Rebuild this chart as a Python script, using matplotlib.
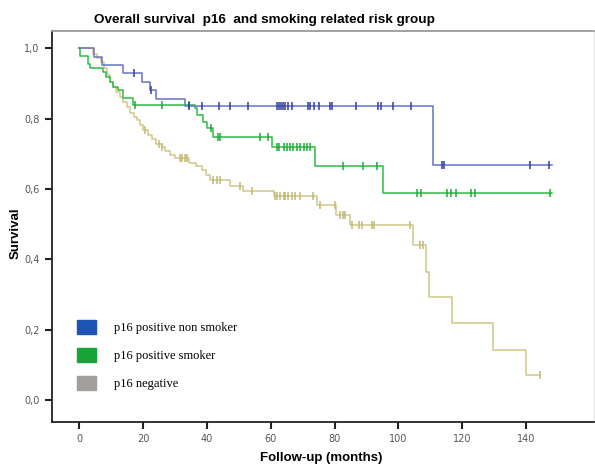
import numpy as np
import matplotlib
matplotlib.use("Agg")
import matplotlib.pyplot as plt
from matplotlib.patches import Patch

# ---------------- data ----------------
title = "Overall survival  p16  and smoking related risk group"
xlabel = "Follow-up (months)"
ylabel = "Survival"
xticks = [0, 20, 40, 60, 80, 100, 120, 140]
yticks = [0.0, 0.2, 0.4, 0.6, 0.8, 1.0]
ytick_labels = ["0,0", "0,2", "0,4", "0,6", "0,8", "1,0"]
legend_labels = ["p16 positive non smoker", "p16 positive smoker", "p16 negative"]

# p16 positive non smoker
blue_t = [0, 4.5, 7.0, 13.8, 19.6, 22.0, 24.0, 33.1, 110.8]
blue_s = [1.0, 0.976, 0.952, 0.929, 0.905, 0.881, 0.857, 0.836, 0.668]
blue_cens = [17.2, 22.6, 34.5, 38.4, 43.8, 47.2, 53.0, 61.9, 62.5, 63.2, 63.9,
             64.6, 65.3, 66.6, 71.8, 72.2, 73.6, 75.0, 78.7, 79.3, 86.7, 93.5,
             94.6, 98.4, 103.9, 113.6, 114.2, 141.1, 147.3]
blue_end = 148

# p16 positive smoker
green_t = [0, 0.3, 2.7, 3.4, 7.4, 8.4, 9.6, 10.6, 12.1, 13.7, 16.8, 36.3, 36.8,
           38.9, 39.9, 41.8, 60.3, 73.9, 95.3]
green_s = [1.0, 0.978, 0.956, 0.944, 0.933, 0.918, 0.904, 0.89, 0.881, 0.859,
           0.839, 0.829, 0.81, 0.791, 0.772, 0.747, 0.72, 0.665, 0.589]
green_cens = [17.5, 25.8, 34.5, 41.3, 43.5, 44.2, 56.6, 59.0, 61.9, 62.7, 64.2,
              65.0, 66.1, 66.9, 68.1, 69.2, 70.4, 71.3, 72.2, 82.6, 89.0, 93.2,
              105.8, 107.0, 115.2, 116.4, 118.1, 122.7, 124.0, 147.6]
green_end = 148

# p16 negative
tan_t = [0, 4.4, 5.5, 6.8, 7.8, 8.7, 9.6, 10.5, 11.6, 12.7, 13.8, 14.9, 15.9,
         17.0, 18.0, 19.0, 20.0, 21.5, 22.8, 24.0, 25.8, 27.0, 28.4, 30.0, 34.5,
         36.5, 38.4, 39.8, 41.0, 47.2, 51.4, 61.0, 74.4, 80.5, 84.9, 104.5,
         108.7, 109.6, 116.9, 129.5, 140.0]
tan_s = [1.0, 0.985, 0.973, 0.962, 0.945, 0.925, 0.905, 0.89, 0.876, 0.862,
         0.848, 0.832, 0.815, 0.805, 0.796, 0.782, 0.768, 0.753, 0.742, 0.729,
         0.72, 0.708, 0.697, 0.687, 0.675, 0.665, 0.654, 0.64, 0.624, 0.608,
         0.595, 0.58, 0.554, 0.526, 0.498, 0.441, 0.365, 0.292, 0.218, 0.142,
         0.071]
tan_cens = [20.5, 25.1, 26.0, 31.6, 32.3, 33.0, 33.7, 42.0, 43.0, 44.1, 50.5,
            54.0, 61.3, 62.1, 63.0, 64.0, 64.5, 65.5, 66.5, 67.5, 69.2, 73.2,
            75.5, 80.2, 81.7, 82.6, 83.3, 85.6, 87.5, 88.5, 91.7, 92.4, 103.5,
            106.8, 107.7, 144.4]
tan_end = 144.4

# ---------------- styles ----------------
line_colors = ["#6673c4", "#2fbb45", "#cfc88a"]
mark_colors = ["#2f3fa0", "#1fa838", "#c2b977"]
patch_colors = ["#1c55b6", "#1aa33a", "#a29e9b"]

fig = plt.figure(figsize=(5.95, 4.66), dpi=100)
ax = fig.add_axes([52 / 595, 1 - 422 / 466, 542 / 595, 391 / 466])

def km(ax, t, s, cens, end, lc, mc):
    t = np.asarray(t, float)
    s = np.asarray(s, float)
    xs = np.append(t, end)
    ys = np.append(s, s[-1])
    ax.step(xs, ys, where="post", color=lc, lw=1.1, zorder=3)
    c = np.asarray(cens, float)
    idx = np.searchsorted(t, c, side="right") - 1
    ax.plot(c, s[idx], linestyle="none", marker="|", markersize=6,
            markeredgewidth=1.1, color=mc, zorder=4)

km(ax, tan_t, tan_s, tan_cens, tan_end, line_colors[2], mark_colors[2])
km(ax, green_t, green_s, green_cens, green_end, line_colors[1], mark_colors[1])
km(ax, blue_t, blue_s, blue_cens, blue_end, line_colors[0], mark_colors[0])

ax.set_xlim(-8.56, 161.3)
ax.set_ylim(-0.0626, 1.049)
ax.set_xticks(xticks)
ax.set_xticklabels([str(v) for v in xticks])
ax.set_yticks(yticks)
ax.set_yticklabels(ytick_labels)
ax.tick_params(axis="both", direction="out", length=5, width=1.5,
               color="#222222", labelsize=7, labelcolor="#555555", pad=4)

for side in ["left", "bottom"]:
    ax.spines[side].set_color("#222222")
    ax.spines[side].set_linewidth(1.3)
ax.spines["top"].set_color("#9a9a9a")
ax.spines["top"].set_linewidth(1.3)
ax.spines["right"].set_color("#e6e6e6")
ax.spines["right"].set_linewidth(0.8)

fig.text(264 / 595, 1 - 20 / 466, title, ha="center", va="center",
         fontsize=9.7, fontweight="bold", family="Liberation Sans")
fig.text(321 / 595, 1 - 458 / 466, xlabel, ha="center", va="center",
         fontsize=9.5, fontweight="bold", family="Liberation Sans")
fig.text(16 / 595, 1 - 233 / 466, ylabel, ha="center", va="center",
         rotation=90, fontsize=9.5, fontweight="bold", family="Liberation Sans")

handles = [Patch(facecolor=c, edgecolor=c) for c in patch_colors]
leg = ax.legend(handles, legend_labels, loc="upper left",
                bbox_to_anchor=(77 / 595, 1 - 320 / 466),
                bbox_transform=fig.transFigure, frameon=False,
                prop={"family": "Liberation Serif", "size": 9},
                handlelength=1.5, handleheight=1.3, handletextpad=1.45,
                labelspacing=1.12, borderpad=0, borderaxespad=0)

fig.savefig("out.png", dpi=100)
